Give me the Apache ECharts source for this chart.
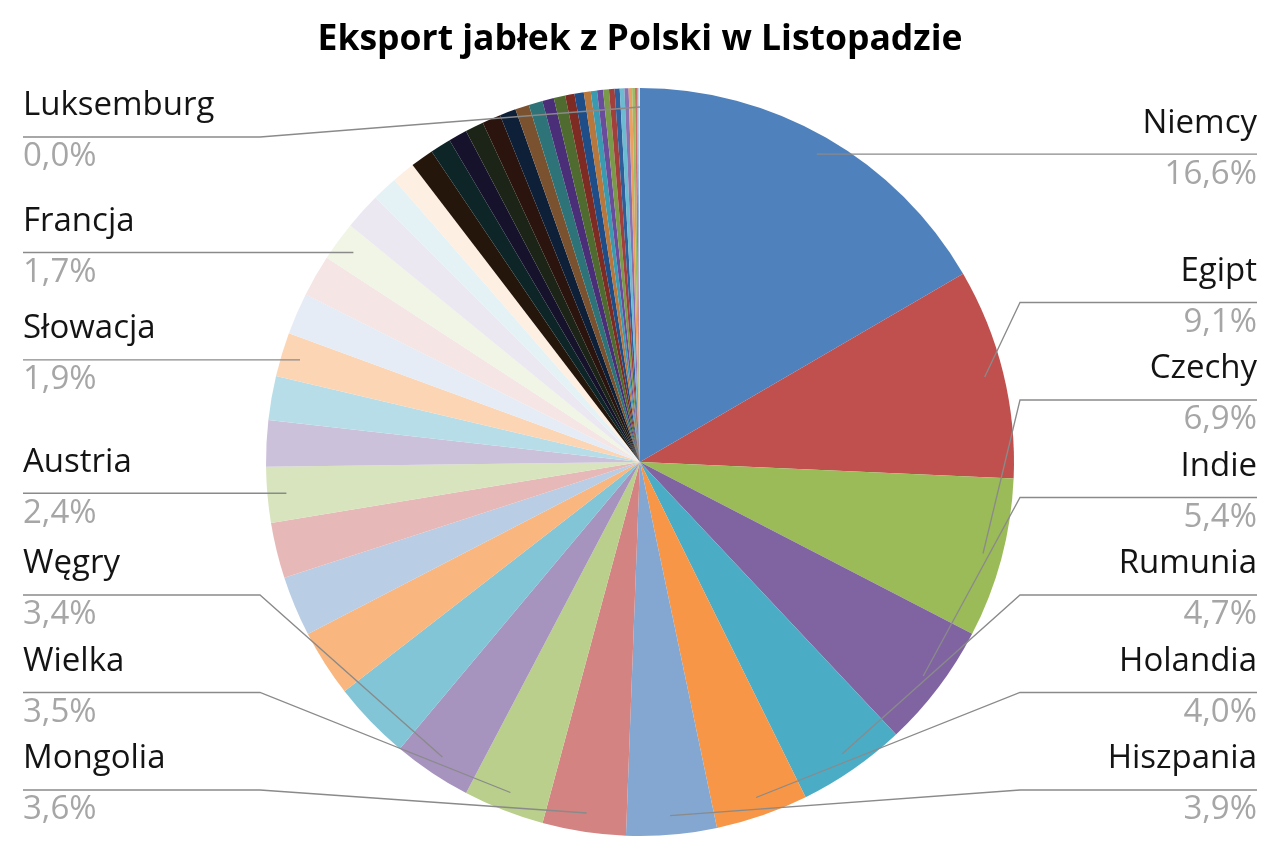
<!DOCTYPE html>
<html>
<head>
<meta charset="utf-8">
<script src="https://cdn.jsdelivr.net/npm/echarts@6/dist/echarts.min.js"></script>
<style>
html,body{margin:0;padding:0;background:#ffffff;}
#chart{width:1280px;height:853px;}
</style>
</head>
<body>
<div id="chart"></div>
<script>
// ---- data ----
const chartTitle = 'Eksport jabłek z Polski w Listopadzie';

const countries = [
  'Niemcy', 'Egipt', 'Czechy', 'Indie', 'Rumunia', 'Holandia', 'Hiszpania',
  'Mongolia', 'Wielka', 'Węgry',
  'Pozostałe 11', 'Pozostałe 12', 'Pozostałe 13', 'Pozostałe 14',
  'Austria',
  'Pozostałe 16', 'Pozostałe 17',
  'Słowacja',
  'Pozostałe 19', 'Pozostałe 20',
  'Francja',
  'Pozostałe 22', 'Pozostałe 23', 'Pozostałe 24', 'Pozostałe 25', 'Pozostałe 26',
  'Pozostałe 27', 'Pozostałe 28', 'Pozostałe 29', 'Pozostałe 30', 'Pozostałe 31',
  'Pozostałe 32', 'Pozostałe 33', 'Pozostałe 34', 'Pozostałe 35', 'Pozostałe 36',
  'Pozostałe 37', 'Pozostałe 38', 'Pozostałe 39', 'Pozostałe 40', 'Pozostałe 41',
  'Pozostałe 42', 'Pozostałe 43', 'Pozostałe 44', 'Pozostałe 45', 'Pozostałe 46',
  'Pozostałe 47', 'Pozostałe 48', 'Pozostałe 49', 'Pozostałe 50',
  'Luksemburg'
];

const shares = [
  16.6, 9.1, 6.9, 5.4, 4.7, 4.0, 3.9,
  3.6, 3.5, 3.4,
  3.4, 2.9, 2.6, 2.4,
  2.4,
  2.0, 1.9,
  1.9,
  1.8, 1.8,
  1.7,
  1.6, 1.1, 1.0, 1.0, 0.9,
  0.8, 0.8, 0.8, 0.7, 0.6,
  0.6, 0.5, 0.5, 0.4, 0.4,
  0.3, 0.27, 0.26, 0.25, 0.24,
  0.22, 0.2, 0.18, 0.15, 0.12,
  0.09, 0.06, 0.04, 0.02,
  0.005
];

// slices whose labels are visible in the reference
const labeledCountries = [
  'Niemcy', 'Egipt', 'Czechy', 'Indie', 'Rumunia', 'Holandia', 'Hiszpania',
  'Mongolia', 'Wielka', 'Węgry', 'Austria', 'Słowacja', 'Francja', 'Luksemburg'
];

// slice palette (Office theme accents, tints and shades)
const palette = [
  '#4F81BD', '#C0504D', '#9BBB59', '#8064A2', '#4BACC6', '#F79646',
  '#84A7D1', '#D38482', '#B9CF8B', '#A693BE', '#81C5D7', '#F9B67E',
  '#B9CDE5', '#E6B9B8', '#D7E4BD', '#CCC1DA', '#B7DEE8', '#FCD5B5',
  '#E5ECF5', '#F5E5E4', '#F0F5E6', '#ECE8F1', '#E4F2F6', '#FEEFE3',
  '#24160B', '#0E2528', '#17122C', '#1B2416', '#2A140D', '#0E1F38',
  '#7A5230', '#2D7377', '#4A2E78', '#4F6B30', '#7E2B24', '#1E4D87',
  '#B8773D', '#3A9AB0', '#6A4C9C', '#7B9A49', '#A03F3B', '#2E5F9A',
  '#6DBBD0', '#8A72B0', '#E9A060', '#9DBA64', '#C8706A', '#8AA9D5',
  '#C9CDD3', '#D8E4F2', '#E8EEF6'
];

// ---- layout ----
const CX = 640, CY = 462, R = 374, R_LABEL = 355;
const LABEL_MIN_Y = 137, LABEL_MAX_Y = 790, LABEL_GAP = 97.5;
const BEND = 380;
const FONT = '"Open Sans", "Noto Sans", sans-serif';

const fmtPct = v => v.toFixed(1).replace('.', ',') + '%';

// Excel-like label placement: each label starts at the height of its anchor point
// (mid-angle of the slice on R_LABEL) and labels on one side are packed without overlap.
const labelY = (function () {
  const total = shares.reduce((a, b) => a + b, 0);
  let acc = 0;
  const sides = { left: [], right: [] };
  shares.forEach((v, i) => {
    const mid = (acc + v / 2) / total * Math.PI * 2;
    acc += v;
    if (labeledCountries.indexOf(countries[i]) < 0) return;
    const y = CY - R_LABEL * Math.cos(mid);
    (Math.sin(mid) >= 0 ? sides.right : sides.left).push({ i: i, y: y });
  });
  const out = {};
  ['left', 'right'].forEach(s => {
    const list = sides[s].sort((a, b) => a.y - b.y);
    let prev = -Infinity;
    list.forEach(it => { it.y = Math.max(it.y, LABEL_MIN_Y, prev + LABEL_GAP); prev = it.y; });
    let next = Infinity;
    for (let k = list.length - 1; k >= 0; k--) {
      list[k].y = Math.min(list[k].y, LABEL_MAX_Y, next - LABEL_GAP);
      next = list[k].y;
    }
    list.forEach(it => { out[it.i] = it.y; });
  });
  return out;
})();

const pieData = countries.map((n, i) => ({ name: n, value: shares[i] }));
const labelData = countries.map((n, i) => {
  const show = labeledCountries.indexOf(n) >= 0;
  return { name: n, value: shares[i], label: { show: show }, labelLine: { show: show } };
});

const chart = echarts.init(document.getElementById('chart'), null, { renderer: 'canvas' });

chart.setOption({
  animation: false,
  backgroundColor: '#ffffff',
  color: palette,
  title: {
    text: chartTitle,
    left: 'center',
    top: 22,
    padding: 0,
    textStyle: { fontFamily: FONT, fontWeight: 'bold', fontSize: 35.5, color: '#000000' }
  },
  series: [
    {
      type: 'pie',
      left: 0, right: 0, top: 0, bottom: 0,
      center: [CX, CY],
      radius: R,
      startAngle: 90,
      clockwise: true,
      silent: true,
      label: { show: false },
      labelLine: { show: false },
      itemStyle: { borderWidth: 0 },
      emphasis: { disabled: true },
      data: pieData
    },
    {
      type: 'pie',
      z: 5,
      left: 0, right: 0, top: 0, bottom: 0,
      center: [CX, CY],
      radius: R_LABEL,
      startAngle: 90,
      clockwise: true,
      silent: true,
      avoidLabelOverlap: true,
      itemStyle: { color: 'rgba(0,0,0,0)', borderWidth: 0 },
      emphasis: { disabled: true },
      label: {
        show: true,
        position: 'outer',
        alignTo: 'edge',
        edgeDistance: 23,
        formatter: p => '{n|' + p.name + '}\n{p|' + fmtPct(p.value) + '}',
        rich: {
          n: { fontFamily: FONT, fontSize: 33, lineHeight: 51, color: '#141414' },
          p: { fontFamily: FONT, fontSize: 33, lineHeight: 51, color: '#A6A6A6' }
        }
      },
      labelLine: {
        show: true,
        length: 0,
        length2: 0,
        minTurnAngle: 0,
        maxSurfaceAngle: 180,
        lineStyle: { color: '#8a8a8a', width: 1.3 }
      },
      labelLayout: function (params) {
        const pts = params.labelLinePoints;
        const r = params.labelRect;
        const ly = labelY[params.dataIndex];
        if (!pts || !r || ly == null) return {};
        const isLeft = r.x + r.width / 2 < CX;
        const bendX = isLeft ? CX - BEND : CX + BEND;
        const endX = isLeft ? r.x : r.x + r.width;
        return {
          y: ly - 5.5,
          labelLinePoints: [pts[0], [bendX, ly], [endX, ly]]
        };
      },
      data: labelData
    }
  ]
});
</script>
</body>
</html>
